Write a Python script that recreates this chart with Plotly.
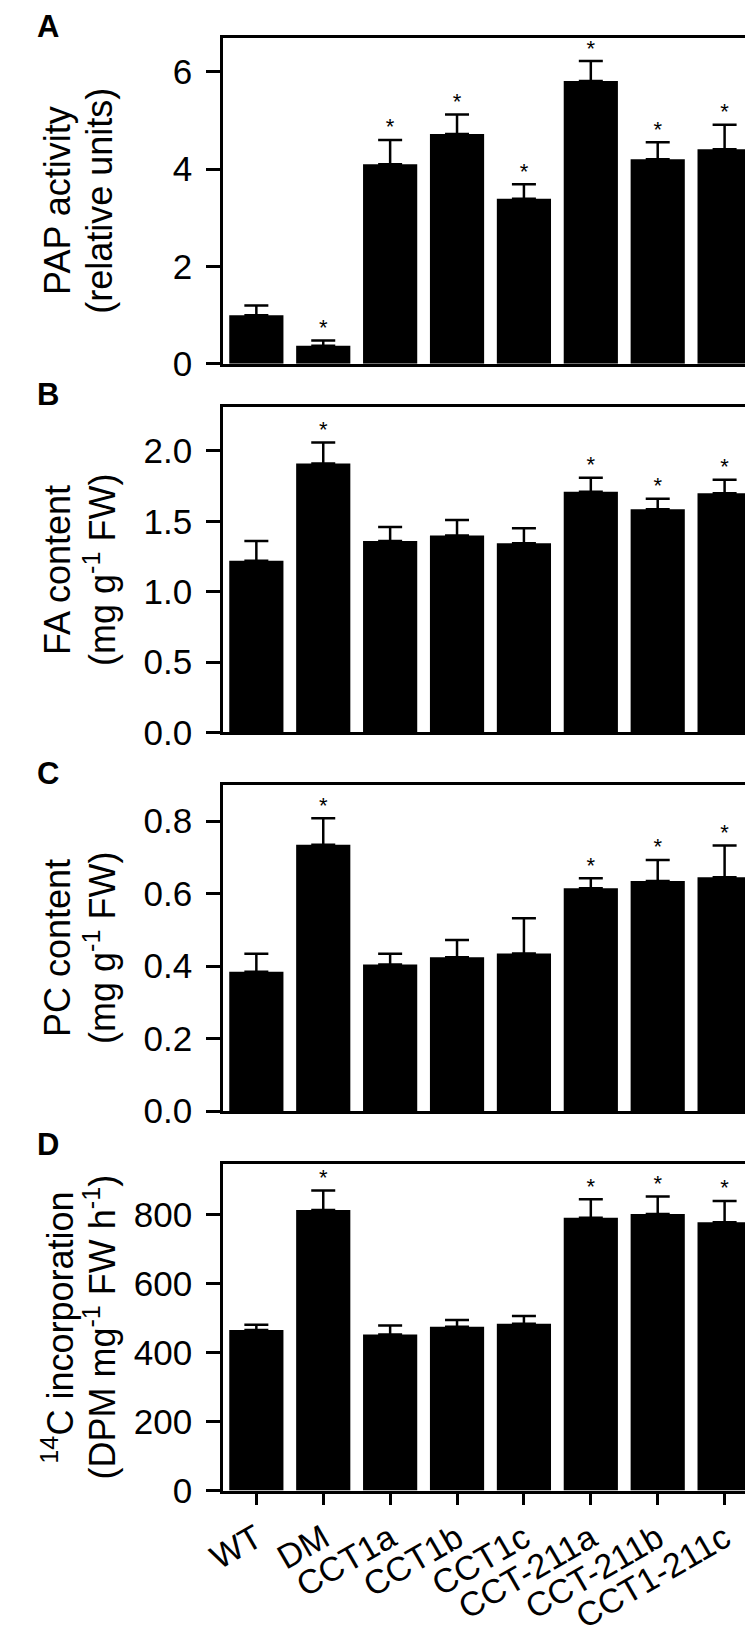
import plotly.graph_objects as go

categories = ["WT", "DM", "CCT1a", "CCT1b", "CCT1c", "CCT-211a", "CCT-211b", "CCT1-211c"]

pap_values = [1.00, 0.37, 4.10, 4.72, 3.39, 5.81, 4.20, 4.41]
pap_errors = [0.20, 0.11, 0.50, 0.40, 0.30, 0.41, 0.35, 0.50]
pap_sig = [False, True, True, True, True, True, True, True]

fa_values = [1.22, 1.91, 1.36, 1.40, 1.345, 1.71, 1.585, 1.70]
fa_errors = [0.14, 0.15, 0.10, 0.11, 0.105, 0.10, 0.075, 0.095]
fa_sig = [False, True, False, False, False, True, True, True]

pc_values = [0.384, 0.735, 0.404, 0.424, 0.435, 0.615, 0.635, 0.645]
pc_errors = [0.050, 0.073, 0.030, 0.048, 0.097, 0.027, 0.058, 0.088]
pc_sig = [False, True, False, False, False, True, True, True]

c14_values = [466, 814, 453, 475, 484, 791, 802, 778]
c14_errors = [15, 56, 26, 20, 22, 54, 51, 62]
c14_sig = [False, True, False, False, False, True, True, True]

pap_ticks = [0, 2, 4, 6]
fa_ticks = [0.0, 0.5, 1.0, 1.5, 2.0]
pc_ticks = [0.0, 0.2, 0.4, 0.6, 0.8]
c14_ticks = [0, 200, 400, 600, 800]

panels = [
    dict(letter="A", values=pap_values, errors=pap_errors, sig=pap_sig, ticks=pap_ticks,
         ticktext=[str(t) for t in pap_ticks], yrange=[0, 6.7],
         title1="PAP activity", title2="(relative units)", top=30, bottom=360, lc=17),
    dict(letter="B", values=fa_values, errors=fa_errors, sig=fa_sig, ticks=fa_ticks,
         ticktext=[f"{t:.1f}" for t in fa_ticks], yrange=[0, 2.31],
         title1="FA content", title2="(mg g<sup>-1</sup> FW)", top=404, bottom=733, lc=389),
    dict(letter="C", values=pc_values, errors=pc_errors, sig=pc_sig, ticks=pc_ticks,
         ticktext=[f"{t:.1f}" for t in pc_ticks], yrange=[0, 0.90],
         title1="PC content", title2="(mg g<sup>-1</sup> FW)", top=786, bottom=1116, lc=773),
    dict(letter="D", values=c14_values, errors=c14_errors, sig=c14_sig, ticks=c14_ticks,
         ticktext=[str(t) for t in c14_ticks], yrange=[0, 946],
         title1="<sup>14</sup>C incorporation", title2="(DPM mg<sup>-1</sup> FW h<sup>-1</sup>)",
         top=1170, bottom=1500, lc=1148),
]

W, H = 753, 1634
FONT = "Arial, Liberation Sans, sans-serif"
x_dom = [202 / W, 751 / W]

fig = go.Figure()
annotations = []
for i, p in enumerate(panels):
    n = i + 1
    xa = "x" if n == 1 else f"x{n}"
    ya = "y" if n == 1 else f"y{n}"
    fig.add_trace(go.Bar(
        x=categories, y=p["values"], xaxis=xa, yaxis=ya,
        marker=dict(color="black", line=dict(width=0)), width=0.81,
        error_y=dict(type="data", array=p["errors"], arrayminus=[0] * len(categories),
                     symmetric=False, color="black", thickness=2.5, width=12),
        showlegend=False, hoverinfo="x+y",
    ))
    sx = [c for c, s in zip(categories, p["sig"]) if s]
    sy = [v + e for v, e, s in zip(p["values"], p["errors"], p["sig"]) if s]
    fig.add_trace(go.Scatter(
        x=sx, y=sy, xaxis=xa, yaxis=ya, mode="text", text=["*"] * len(sx),
        textposition="top center", textfont=dict(family=FONT, size=22, color="black"),
        showlegend=False, hoverinfo="skip",
    ))
    dom = [1 - p["bottom"] / H, 1 - p["top"] / H]
    last = (n == 4)
    fig.layout[xa.replace("x", "xaxis")] = dict(
        domain=x_dom, anchor=ya, range=[-0.5, 7.5], type="category",
        showline=True, linecolor="black", linewidth=2.5, mirror=True,
        ticks="outside" if last else "", ticklen=12, tickwidth=2.5, tickcolor="black",
        showticklabels=last, tickangle=-30,
        tickfont=dict(family=FONT, size=34, color="black"),
        showgrid=False, zeroline=False, fixedrange=True,
    )
    fig.layout[ya.replace("y", "yaxis")] = dict(
        domain=dom, anchor=xa, range=p["yrange"],
        tickmode="array", tickvals=p["ticks"], ticktext=p["ticktext"],
        showline=True, linecolor="black", linewidth=2.5, mirror=True,
        ticks="outside", ticklen=14, tickwidth=2.5, tickcolor="black",
        ticklabelstandoff=7,
        tickfont=dict(family=FONT, size=35, color="black"),
        showgrid=False, zeroline=False, fixedrange=True,
    )
    ymid = 1 - (p["top"] + p["bottom"]) / 2 / H
    annotations.append(dict(
        text=p["title1"], textangle=-90, xref="paper", yref="paper",
        x=33 / W, y=ymid, xanchor="center", yanchor="middle",
        showarrow=False, font=dict(family=FONT, size=36, color="black"),
    ))
    annotations.append(dict(
        text=p["title2"], textangle=-90, xref="paper", yref="paper",
        x=76 / W, y=ymid, xanchor="center", yanchor="middle",
        showarrow=False, font=dict(family=FONT, size=36, color="black"),
    ))
    annotations.append(dict(
        text=f"<b>{p['letter']}</b>", xref="paper", yref="paper",
        x=9 / W, y=1 - (p["lc"] + 2) / H, xanchor="left", yanchor="middle",
        showarrow=False, font=dict(family=FONT, size=31, color="black"),
    ))

fig.update_layout(
    width=W, height=H, margin=dict(l=0, r=0, t=0, b=0),
    paper_bgcolor="white", plot_bgcolor="white",
    bargap=0.19, annotations=annotations,
)

fig.write_html("out.html")
